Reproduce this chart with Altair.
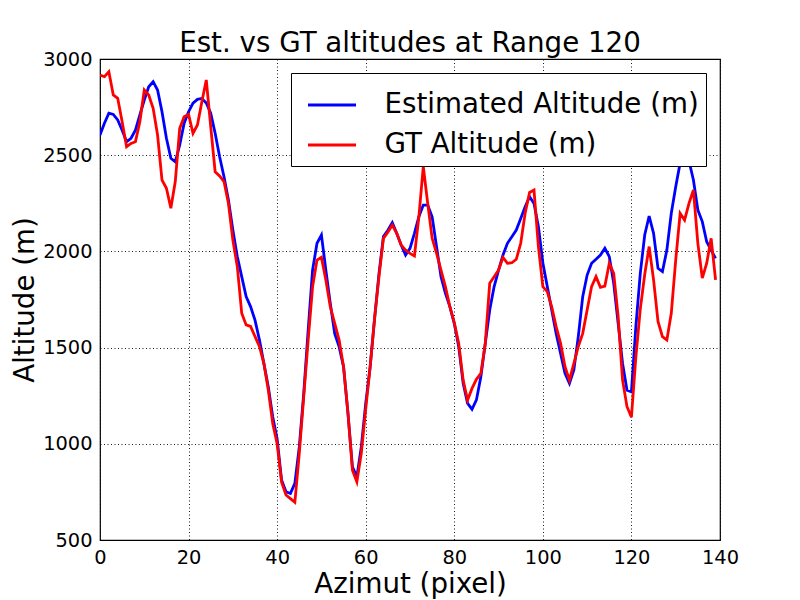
import altair as alt
import pandas as pd

azimut = list(range(140))

estimated = [
    2605, 2666, 2718, 2712, 2683, 2630, 2570, 2588, 2630, 2710,
    2787, 2856, 2882, 2839, 2726, 2588, 2484, 2466, 2553, 2666,
    2726, 2771, 2790, 2795, 2771, 2718, 2614, 2493, 2388, 2267,
    2111, 1973, 1869, 1765, 1713, 1643, 1540, 1418, 1297, 1141,
    1025, 812, 751, 742, 794, 984, 1261, 1590, 1903, 2042,
    2085, 1903, 1730, 1573, 1504, 1400, 1157, 880, 828, 984,
    1210, 1400, 1650, 1886, 2077, 2110, 2149, 2094, 2033, 1981,
    2016, 2094, 2180, 2241, 2241, 2180, 2024, 1868, 1782, 1713,
    1625, 1505, 1314, 1210, 1179, 1228, 1349, 1522, 1695, 1817,
    1903, 1981, 2042, 2076, 2111, 2171, 2232, 2284, 2249, 2128,
    1940, 1817, 1695, 1574, 1470, 1366, 1314, 1384, 1557, 1765,
    1877, 1938, 1959, 1981, 2016, 1973, 1834, 1626, 1418, 1279,
    1270, 1609, 1886, 2085, 2184, 2094, 1912, 1895, 2007, 2198,
    2336, 2460, 2560, 2470, 2371, 2215, 2155, 2050, 2007, 1964,
]

ground_truth = [
    2917, 2908, 2934, 2813, 2796, 2674, 2544, 2561, 2570, 2674,
    2839, 2813, 2744, 2605, 2371, 2328, 2224, 2363, 2640, 2700,
    2712, 2614, 2657, 2778, 2891, 2648, 2414, 2392, 2363, 2250,
    2059, 1922, 1679, 1618, 1610, 1558, 1506, 1418, 1280, 1106,
    1000, 800, 734, 715, 696, 950, 1244, 1538, 1816, 1955,
    1969, 1851, 1712, 1626, 1539, 1400, 1157, 863, 802, 950,
    1180, 1400, 1650, 1870, 2068, 2100, 2137, 2094, 2033, 2007,
    1990, 1976, 2180, 2440, 2250, 2068, 1990, 1903, 1816, 1713,
    1630, 1522, 1331, 1227, 1288, 1335, 1366, 1522, 1834, 1868,
    1903, 1969, 1938, 1941, 1959, 2042, 2198, 2306, 2319, 2024,
    1817, 1791, 1712, 1609, 1522, 1401, 1331, 1418, 1505, 1574,
    1695, 1817, 1869, 1813, 1820, 1938, 1886, 1661, 1331, 1193,
    1138, 1450, 1700, 1880, 2025, 1852, 1636, 1557, 1540, 1678,
    1955, 2198, 2163, 2250, 2319, 2042, 1861, 1939, 2068, 1852,
]

series_names = ["Estimated Altitude (m)", "GT Altitude (m)"]
series_colors = ["#0000ff", "#ff0000"]
x_ticks = [0, 20, 40, 60, 80, 100, 120, 140]
y_ticks = [500, 1000, 1500, 2000, 2500, 3000]

df = pd.concat([
    pd.DataFrame({"azimut": azimut, "alt": estimated, "series": series_names[0], "ord": 0}),
    pd.DataFrame({"azimut": azimut, "alt": ground_truth, "series": series_names[1], "ord": 1}),
])

FONT = "DejaVu Sans"

chart = alt.Chart(df).mark_line(strokeWidth=2.8, clip=True).encode(
    x=alt.X("azimut:Q", scale=alt.Scale(domain=[0, 140], nice=False),
            axis=alt.Axis(values=x_ticks, title="Azimut (pixel)", format="d",
                          labelFlush=False)),
    y=alt.Y("alt:Q", scale=alt.Scale(domain=[500, 3000], nice=False),
            axis=alt.Axis(values=y_ticks, title="Altitude (m)", format="d",
                          labelFlush=False)),
    color=alt.Color("series:N", title=None,
                    scale=alt.Scale(domain=series_names, range=series_colors),
                    legend=alt.Legend(orient="none", legendX=191, legendY=14,
                                      symbolType="stroke", symbolSize=2304,
                                      symbolStrokeWidth=3, symbolOffset=9,
                                      labelOffset=27,
                                      labelFontSize=27.7, labelFont=FONT, labelColor="black",
                                      padding=6.5, rowPadding=0,
                                      strokeColor="black", fillColor="white",
                                      cornerRadius=0, labelLimit=500)),
    order=alt.Order("ord:Q"),
).properties(
    width=620,
    height=481,
    title=alt.TitleParams("Est. vs GT altitudes at Range 120", font=FONT,
                          fontSize=27.7, fontWeight="normal", color="black",
                          frame="group", offset=6, dy=15),
    autosize=alt.AutoSizeParams(type="none"),
    padding={"left": 92, "top": 51, "right": 40, "bottom": 60},
).configure_view(
    stroke="black", strokeWidth=1.2
).configure_axis(
    labelFont=FONT, labelFontSize=19.4, labelColor="black",
    titleFont=FONT, titleFontSize=27.7, titleFontWeight="normal", titleColor="black",
    grid=True, gridColor="black", gridDash=[1, 2.5], gridWidth=1, gridOpacity=0.9,
    ticks=False, domain=False, labelPadding=8,
).configure_axisX(
    titlePadding=4
).configure_axisY(
    titlePadding=3
)

chart.save("out.html", embed_options={"renderer": "svg", "actions": False})
